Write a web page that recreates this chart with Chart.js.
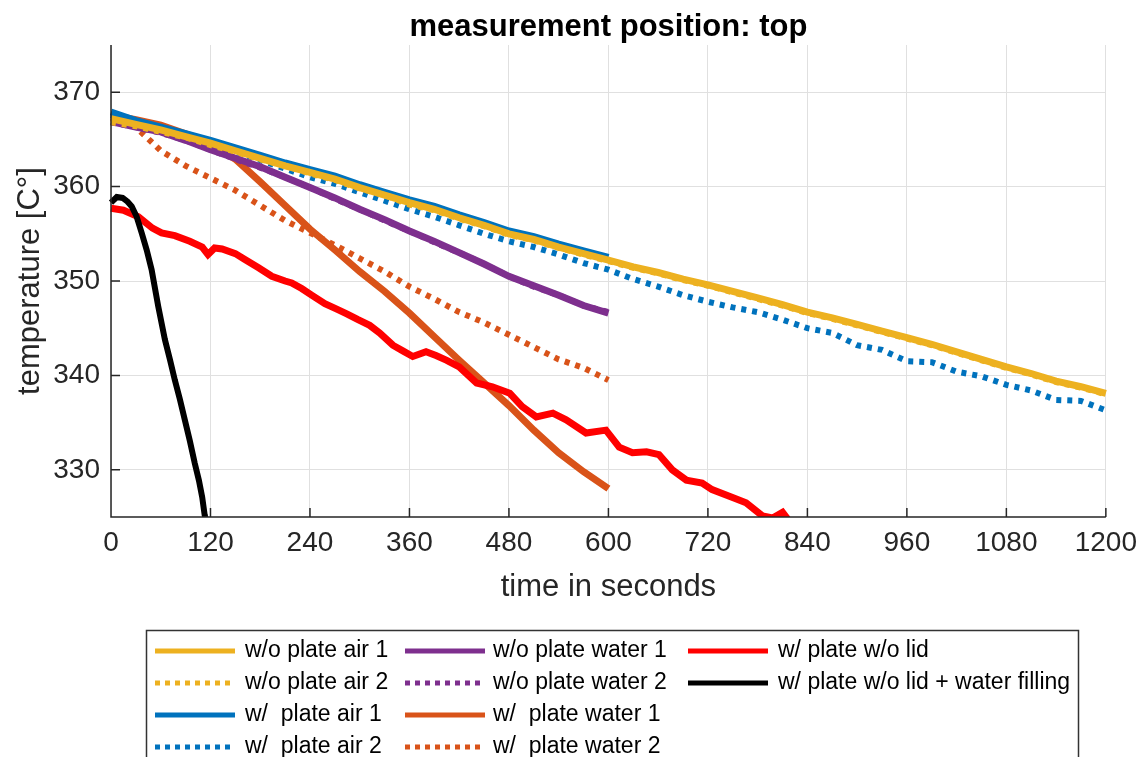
<!DOCTYPE html>
<html>
<head>
<meta charset="utf-8">
<script src="https://cdn.jsdelivr.net/npm/chart.js@4.4.1/dist/chart.umd.min.js"></script>
<style>
  body { margin: 0; background: #fff; }
  canvas { display: block; }
</style>
</head>
<body>
<canvas id="cooling" width="1146" height="757"></canvas>
<script>
// ticks
var xTicks = [0, 120, 240, 360, 480, 600, 720, 840, 960, 1080, 1200];
var yTicks = [330, 340, 350, 360, 370];

// time bases (s)
var time1200 = [0, 30, 60, 90, 120, 150, 180, 210, 240, 270, 300, 330, 360, 390, 420, 450, 480, 510, 540, 570, 600,
  630, 660, 690, 720, 750, 780, 810, 840, 870, 900, 930, 960, 990, 1020, 1050, 1080, 1110, 1140, 1170, 1200];
var time600 = [0, 30, 60, 90, 120, 150, 180, 210, 240, 270, 300, 330, 360, 390, 420, 450, 480, 510, 540, 570, 600];

// temperatures (°C)
var woPlateAir1 = [367.2, 366.6, 366.0, 365.3, 364.6, 363.8, 363.0, 362.2, 361.5, 360.8, 359.9, 359.1, 358.3, 357.6,
  356.7, 355.9, 355.0, 354.4, 353.6, 352.9, 352.2, 351.5, 350.9, 350.2, 349.6, 348.9, 348.2, 347.5, 346.7, 346.1,
  345.4, 344.7, 344.0, 343.3, 342.5, 341.7, 340.9, 340.2, 339.4, 338.8, 338.1];
var woPlateAir2 = [366.8, 366.4, 365.8, 365.2, 364.4, 363.7, 362.9, 362.2, 361.4, 360.7, 359.8, 359.1, 358.1, 357.5,
  356.6, 355.8, 354.9, 354.3, 353.5, 352.8, 352.1, 351.4, 350.8, 350.1, 349.5, 348.8, 348.1, 347.4, 346.6, 346.0,
  345.3, 344.6, 343.9, 343.2, 342.4, 341.6, 340.8, 340.1, 339.3, 338.7, 338.0];
var wPlateAir1 = [367.9, 367.0, 366.3, 365.6, 364.9, 364.1, 363.3, 362.5, 361.8, 361.1, 360.2, 359.4, 358.6, 357.9,
  357.0, 356.2, 355.3, 354.7, 353.9, 353.2, 352.5];
var wPlateAir2 = [367.6, 366.9, 366.2, 365.4, 364.5, 363.7, 362.8, 361.9, 361.0, 360.3, 359.4, 358.5, 357.6, 356.8,
  355.9, 355.0, 354.2, 353.6, 352.8, 351.9, 351.2, 350.2, 349.4, 348.5, 347.8, 347.2, 346.7, 345.9, 345.0, 344.5,
  343.2, 342.7, 341.5, 341.4, 340.4, 339.9, 339.0, 338.4, 337.4, 337.3, 336.3];
var woPlateWater1 = [366.9, 366.3, 365.8, 364.9, 363.9, 363.0, 362.1, 361.0, 359.9, 358.8, 357.6, 356.5, 355.3, 354.2,
  353.0, 351.8, 350.5, 349.5, 348.5, 347.4, 346.6];
var woPlateWater2 = [366.8, 366.3, 365.7, 364.9, 363.9, 362.9, 362.0, 361.0, 359.9, 358.7, 357.6, 356.4, 355.3, 354.1,
  353.0, 351.8, 350.5, 349.4, 348.5, 347.4, 346.7];
var wPlateWater1 = [367.6, 367.1, 366.5, 365.6, 364.6, 362.9, 360.5, 358.0, 355.5, 353.3, 351.0, 348.9, 346.6, 344.1,
  341.6, 339.2, 336.8, 334.2, 331.8, 329.8, 328.0];
var wPlateWater2 = [367.3, 366.3, 363.8, 362.2, 360.9, 359.6, 358.0, 356.4, 355.1, 353.8, 352.4, 351.0, 349.4, 348.1,
  346.7, 345.6, 344.3, 343.0, 341.7, 340.8, 339.5];

var noLidTime = [0, 15, 33, 50, 61, 77, 95, 110, 117, 125, 134, 150, 161, 178, 194, 210, 218, 230, 242, 258, 273, 285,
  298, 312, 324, 340, 352, 364, 380, 392, 405, 420, 441, 460, 481, 496, 513, 533, 549, 573, 597, 613, 629, 646, 661,
  677, 694, 713, 725, 749, 766, 786, 798, 810, 816];
var noLidTemp = [357.7, 357.5, 356.8, 355.6, 355.1, 354.8, 354.2, 353.6, 352.8, 353.5, 353.4, 352.9, 352.3, 351.4,
  350.5, 350.0, 349.8, 349.2, 348.5, 347.6, 347.0, 346.5, 345.9, 345.3, 344.5, 343.2, 342.6, 342.0, 342.5, 342.1,
  341.6, 340.9, 339.2, 338.8, 338.1, 336.7, 335.6, 336.0, 335.3, 333.9, 334.2, 332.4, 331.8, 331.9, 331.6, 330.0,
  328.9, 328.6, 327.9, 327.1, 326.5, 325.1, 324.9, 325.5, 324.8];

var fillTime = [0, 7, 14, 20, 25, 31, 37, 43, 49, 57, 65, 71, 77, 83, 89, 95, 101, 106, 110, 113, 118];
var fillTemp = [358.3, 358.9, 358.8, 358.4, 357.9, 356.8, 355.1, 353.3, 351.2, 347.3, 343.8, 341.7, 339.5, 337.5,
  335.3, 333.1, 330.7, 328.9, 327.1, 325.2, 323.5];

function pairs(xs, ys) {
  var out = [];
  for (var i in xs) out.push({x: xs[i], y: ys[i]});
  return out;
}

var BLUE = '#0072BD', ORANGE = '#D95319', YELLOW = '#EDB120', PURPLE = '#7E2F8E';
var DOT = [5, 6];

function series(label, xs, ys, color, dotted, order, width) {
  return {
    label: label,
    data: pairs(xs, ys),
    borderColor: color,
    backgroundColor: color,
    borderWidth: width || (dotted ? 6 : 7),
    borderDash: dotted ? DOT : [],
    pointRadius: 0,
    tension: 0,
    fill: false,
    order: order,
    clip: {left: 4, top: 4, right: 4, bottom: 0}
  };
}

var datasets = [
  series('w/o plate air 1', time1200, woPlateAir1, YELLOW, false, 2),
  series('w/o plate air 2', time1200, woPlateAir2, YELLOW, true, 3),
  series('w/  plate air 1', time600, wPlateAir1, BLUE, false, 6),
  series('w/  plate air 2', time1200, wPlateAir2, BLUE, true, 7),
  series('w/o plate water 1', time600, woPlateWater1, PURPLE, false, 4),
  series('w/o plate water 2', time600, woPlateWater2, PURPLE, true, 5),
  series('w/  plate water 1', time600, wPlateWater1, ORANGE, false, 8),
  series('w/  plate water 2', time600, wPlateWater2, ORANGE, true, 9),
  series('w/ plate w/o lid', noLidTime, noLidTemp, '#FF0000', false, 1),
  series('w/ plate w/o lid + water filling', fillTime, fillTemp, '#000000', false, 0, 6)
];

// title centred over the axes, inward tick marks like the original axes
var axisDecor = {
  id: 'axisDecor',
  afterDatasetsDraw: function (chart) {
    var ctx = chart.ctx, a = chart.chartArea, xs = chart.scales.x, ys = chart.scales.y;
    ctx.save();
    ctx.strokeStyle = '#262626';
    ctx.lineWidth = 1.5;
    ctx.beginPath();
    xTicks.forEach(function (v) {
      var px = xs.getPixelForValue(v);
      ctx.moveTo(px, a.bottom); ctx.lineTo(px, a.bottom - 9);
    });
    yTicks.forEach(function (v) {
      var py = ys.getPixelForValue(v);
      ctx.moveTo(a.left, py); ctx.lineTo(a.left + 9, py);
    });
    ctx.moveTo(a.left, a.top); ctx.lineTo(a.left, a.bottom); ctx.lineTo(a.right, a.bottom);
    ctx.stroke();

    ctx.fillStyle = '#000';
    ctx.font = "bold 31px 'Liberation Sans', Arial, sans-serif";
    ctx.textAlign = 'center';
    ctx.textBaseline = 'middle';
    ctx.fillText('measurement position: top', (a.left + a.right) / 2, 27);
    ctx.restore();
  }
};

// legend box in three columns below the axes
var legendCols = [[0, 1, 2, 3], [4, 5, 6, 7], [8, 9]];
var boxLegend = {
  id: 'boxLegend',
  afterDraw: function (chart) {
    var ctx = chart.ctx;
    var sampleX = [155, 405, 688], textX = [245, 493, 778];
    ctx.save();
    ctx.fillStyle = '#fff';
    ctx.fillRect(146, 630, 932, 140);
    ctx.strokeStyle = '#333';
    ctx.lineWidth = 1.5;
    ctx.strokeRect(146.5, 630.5, 932, 140);
    ctx.font = "23px 'Liberation Sans', Arial, sans-serif";
    ctx.textBaseline = 'middle';
    ctx.textAlign = 'left';
    legendCols.forEach(function (col, c) {
      col.forEach(function (idx, r) {
        var ds = chart.data.datasets[idx];
        var y = 651 + r * 32;
        ctx.strokeStyle = ds.borderColor;
        ctx.lineWidth = 5;
        ctx.setLineDash(ds.borderDash.length ? [5, 5] : []);
        ctx.beginPath();
        ctx.moveTo(sampleX[c], y); ctx.lineTo(sampleX[c] + 80, y);
        ctx.stroke();
        ctx.setLineDash([]);
        ctx.fillStyle = '#000';
        ctx.fillText(ds.label, textX[c], y);
      });
    });
    ctx.restore();
  }
};

Chart.defaults.font.family = "'Liberation Sans', Arial, sans-serif";
Chart.defaults.color = '#262626';

new Chart(document.getElementById('cooling'), {
  type: 'line',
  data: {datasets: datasets},
  options: {
    responsive: false,
    animation: false,
    devicePixelRatio: 1,
    layout: {padding: {left: 0, right: 39, top: 45, bottom: 151}},
    plugins: {
      legend: {display: false},
      tooltip: {enabled: false},
      title: {display: false}
    },
    scales: {
      x: {
        type: 'linear',
        min: 0,
        max: 1200,
        afterBuildTicks: function (s) { s.ticks = xTicks.map(function (v) { return {value: v}; }); },
        afterFit: function (s) { s.height = 89; },
        ticks: {font: {size: 28}, color: '#262626', padding: 9, maxRotation: 0, autoSkip: false,
          callback: function (v) { return String(v); }},
        grid: {color: '#e0e0e0', lineWidth: 1, drawTicks: false},
        border: {display: false},
        title: {display: true, text: 'time in seconds', color: '#262626', font: {size: 31}, padding: {top: 0, bottom: 0}}
      },
      y: {
        type: 'linear',
        min: 325,
        max: 375,
        afterBuildTicks: function (s) { s.ticks = yTicks.map(function (v) { return {value: v}; }); },
        afterFit: function (s) { s.width = 111; },
        ticks: {font: {size: 28}, color: '#262626', padding: 11, callback: function (v) { return String(v); }},
        grid: {color: '#e0e0e0', lineWidth: 1, drawTicks: false},
        border: {display: false},
        title: {display: true, text: 'temperature [C°]', color: '#262626', font: {size: 31}, padding: {top: 12, bottom: 0}}
      }
    }
  },
  plugins: [axisDecor, boxLegend]
});
</script>
</body>
</html>
